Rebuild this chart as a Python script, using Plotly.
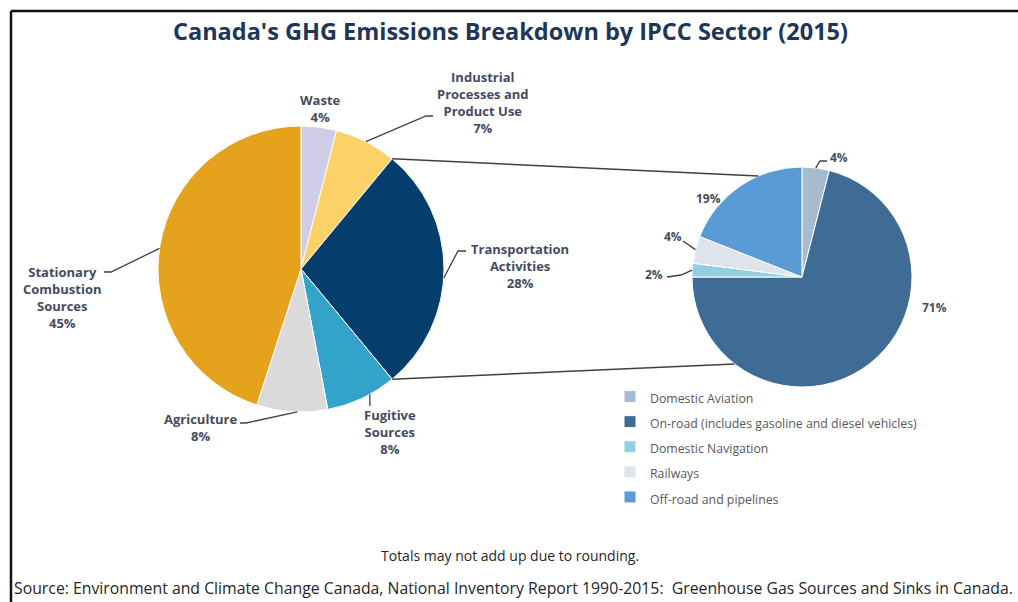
import math
import plotly.graph_objects as go

W, H = 1018, 602

# IPCC sector breakdown (share of national total, %)
sectors = [
    "Waste",
    "Industrial<br>Processes and<br>Product Use",
    "Transportation<br>Activities",
    "Fugitive<br>Sources",
    "Agriculture",
    "Stationary<br>Combustion<br>Sources",
]
sector_share = [4, 7, 28, 8, 8, 45]
sector_colors = ["#CFCDE6", "#FBD168", "#053D6C", "#33A3CA", "#DADADA", "#E4A21D"]

# Transportation sub-sectors (share of transportation emissions, %)
transport_modes = [
    "Domestic Aviation",
    "On-road (includes gasoline and diesel vehicles)",
    "Domestic Navigation",
    "Railways",
    "Off-road and pipelines",
]
transport_share = [4, 71, 2, 4, 19]
transport_colors = ["#A7BBCF", "#3E6C94", "#93CFE2", "#DDE4EC", "#5B9BD5"]

LABEL_COLOR = "#454B5E"
FONT = "Open Sans"


def px(x):
    return x / W


def py(y):
    return 1 - y / H


# pie geometry (pixels)
L_CX, L_CY, L_R = 301, 269, 143
R_CX, R_CY, R_R = 802, 277, 110


def domain(cx, cy, r):
    return dict(x=[px(cx - r), px(cx + r)], y=[py(cy + r), py(cy - r)])


def edge(cx, cy, r, frac):
    """Point on a pie's rim at a cumulative fraction, clockwise from 12 o'clock."""
    a = 2 * math.pi * frac
    return cx + r * math.sin(a), cy - r * math.cos(a)


fig = go.Figure()

fig.add_trace(go.Pie(
    labels=sectors, values=sector_share, sort=False, direction="clockwise",
    rotation=0, textinfo="none", hoverinfo="label+percent",
    marker=dict(colors=sector_colors, line=dict(color="white", width=1)),
    domain=domain(L_CX, L_CY, L_R), showlegend=False,
))

fig.add_trace(go.Pie(
    labels=[f'<span style="font-size:12.3px">{m}</span>' for m in transport_modes],
    values=transport_share, sort=False, direction="clockwise",
    rotation=0, textinfo="none", hoverinfo="label+percent",
    marker=dict(colors=transport_colors, line=dict(color="white", width=1)),
    domain=domain(R_CX, R_CY, R_R), showlegend=True,
))

shapes = []
annotations = []


def line_path(points, color="#404040", width=1.3):
    d = "M " + " L ".join(f"{px(x):.5f},{py(y):.5f}" for x, y in points)
    shapes.append(dict(type="path", path=d, xref="paper", yref="paper",
                       line=dict(color=color, width=width)))


def label(text, x, y, size=13, color=LABEL_COLOR, xanchor="center"):
    annotations.append(dict(text=text, x=px(x), y=py(y), xref="paper", yref="paper",
                            xanchor=xanchor, yanchor="middle", showarrow=False,
                            font=dict(family=FONT, size=size, color=color)))


def bold_lines(text):
    return "<br>".join(f"<b>{t}</b>" for t in text.split("<br>"))


# cumulative fractions of the left pie
cum = [0]
for v in sector_share:
    cum.append(cum[-1] + v)
tot = cum[-1]
mid = [(cum[i] + cum[i + 1]) / 2 / tot for i in range(len(sector_share))]

# left pie labels with leader lines
pct = [f"{v}%" for v in sector_share]
label(bold_lines(f"{sectors[0]}<br>{pct[0]}"), 320, 108)
p = edge(L_CX, L_CY, L_R, mid[1])
line_path([p, (426, 116), (433, 116)])
label(bold_lines(f"{sectors[1]}<br>{pct[1]}"), 483, 102)
p = edge(L_CX, L_CY, L_R, mid[2] + 0.01)
line_path([p, (458, 251), (466, 251)])
label(bold_lines(f"{sectors[2]}<br>{pct[2]}"), 520, 266)
p = edge(L_CX, L_CY, L_R, mid[3] - 0.01)
line_path([p, (p[0], 406)])
label(bold_lines(f"{sectors[3]}<br>{pct[3]}"), 390, 432)
p = edge(L_CX, L_CY, L_R, mid[4] - 0.006)
line_path([p, (246, 423), (240, 423)])
label(bold_lines(f"{sectors[4]}<br>{pct[4]}"), 200, 427)
p = edge(L_CX, L_CY, L_R, 0.773)
line_path([p, (111, 272), (104, 272)])
label(bold_lines(f"{sectors[5]}<br>{pct[5]}"), 62, 297)

# connectors between the transportation slice and the breakdown pie
t_start = cum[2] / tot
t_end = cum[3] / tot
line_path([edge(L_CX, L_CY, L_R, t_start), edge(R_CX, R_CY, R_R, 1 - 0.065)], width=1.5)
line_path([edge(L_CX, L_CY, L_R, t_end), edge(R_CX, R_CY, R_R, 0.605)], width=1.5)

# right pie labels
rc = [0]
for v in transport_share:
    rc.append(rc[-1] + v)
rmid = [(rc[i] + rc[i + 1]) / 2 / rc[-1] for i in range(len(transport_share))]
rp = [f"<b>{v}%</b>" for v in transport_share]
p = edge(R_CX, R_CY, R_R, rmid[0])
line_path([p, (820, 161), (827, 161)])
label(rp[0], 839, 157, size=12)
label(rp[1], 934, 307, size=12)
p = edge(R_CX, R_CY, R_R, rmid[2])
line_path([p, (681, 275), (667, 277)])
label(rp[2], 654, 274, size=12)
p = edge(R_CX, R_CY, R_R, rmid[3])
line_path([p, (683, 241)])
label(rp[3], 673, 237, size=12)
label(rp[4], 708, 198, size=12)

# title and footnotes
label("<b>Canada's GHG Emissions Breakdown by IPCC Sector (2015)</b>", 510, 31,
      size=23.5, color="#1F3656")
label("Totals may not add up due to rounding.", 510, 555, size=14, color="#262626")
label("Source: Environment and Climate Change Canada, National Inventory Report 1990-2015:  "
      "Greenhouse Gas Sources and Sinks in Canada.", 12, 588, size=15.8,
      color="#262626", xanchor="left")

# frame on the top and left edges
shapes.append(dict(type="line", xref="paper", yref="paper", x0=px(11), x1=1, y0=py(11), y1=py(11),
                   line=dict(color="#111111", width=2.5)))
shapes.append(dict(type="line", xref="paper", yref="paper", x0=px(11), x1=px(11), y0=py(11), y1=0,
                   line=dict(color="#111111", width=2.5)))

fig.update_layout(
    width=W, height=H,
    margin=dict(l=0, r=0, t=0, b=0),
    paper_bgcolor="white", plot_bgcolor="white",
    shapes=shapes, annotations=annotations,
    legend=dict(x=px(610), y=py(379), xanchor="left", yanchor="top",
                font=dict(family=FONT, size=17, color="#595959"),
                bgcolor="rgba(0,0,0,0)", tracegroupgap=0),
)

fig.write_html("out.html")
